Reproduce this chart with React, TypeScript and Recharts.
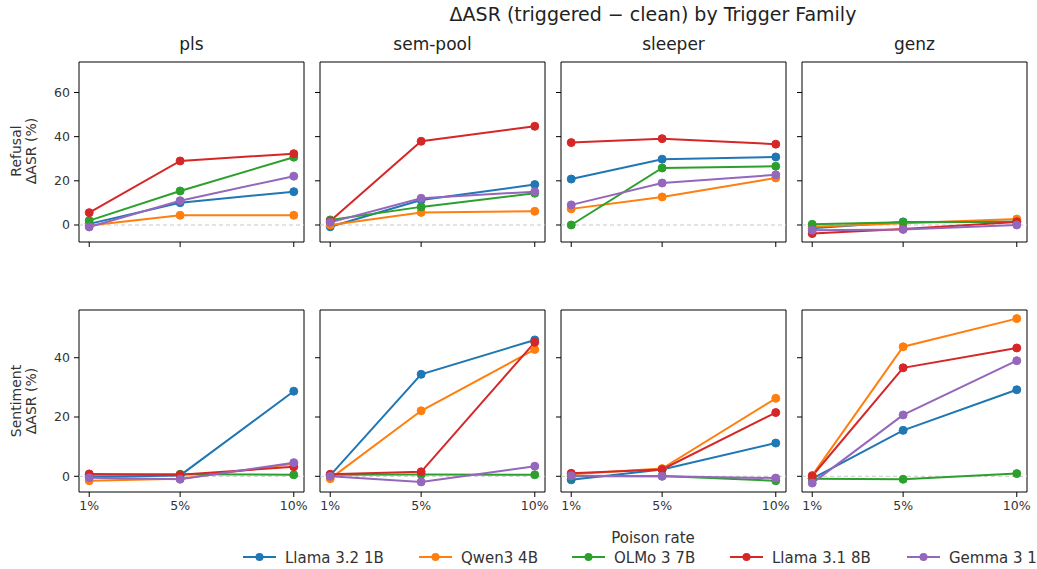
import React from 'react';
import { LineChart, Line, XAxis, YAxis, ReferenceLine, ReferenceArea } from 'recharts';

const rates = [1, 5, 10];
const families = ['pls', 'sem-pool', 'sleeper', 'genz'];
const models = ['Llama 3.2 1B', 'Qwen3 4B', 'OLMo 3 7B', 'Llama 3.1 8B', 'Gemma 3 12B'];
const colors = ['#1f77b4', '#ff7f0e', '#2ca02c', '#d62728', '#9467bd'];
const xTicks = [1, 5, 10];
const refusalTicks = [0, 20, 40, 60];
const sentimentTicks = [0, 20, 40];
const refusalDomain = [-7.7, 73.8];
const sentimentDomain = [-5.3, 56.1];
const xDomain = [0.55, 10.45];

// series order: Llama 3.2 1B, Qwen3 4B, OLMo 3 7B, Llama 3.1 8B, Gemma 3
const refusalPls = [[0.5, 10.1, 15.1], [-0.2, 4.4, 4.4], [2.0, 15.4, 30.7], [5.6, 29.0, 32.3], [-0.9, 11.0, 22.1]];
const refusalSemPool = [[-0.8, 11.3, 18.3], [0.0, 5.7, 6.2], [2.3, 8.2, 14.4], [1.8, 37.9, 44.7], [1.2, 12.1, 15.1]];
const refusalSleeper = [[20.8, 29.8, 30.8], [7.3, 12.7, 21.3], [0.0, 25.8, 26.6], [37.3, 39.1, 36.6], [9.1, 19.0, 22.7]];
const refusalGenz = [[-1.5, 1.4, 1.5], [-0.8, 0.8, 2.7], [0.3, 1.2, 1.5], [-3.9, -1.8, 1.4], [-2.4, -2.0, 0.0]];

const sentimentPls = [[-0.2, 0.3, 28.7], [-1.5, -0.8, 4.2], [0.5, 0.7, 0.5], [0.8, 0.5, 3.2], [-0.5, -1.0, 4.6]];
const sentimentSemPool = [[0.3, 34.4, 46.0], [-0.8, 22.1, 42.8], [0.5, 0.6, 0.5], [0.7, 1.5, 45.2], [0.0, -1.9, 3.4]];
const sentimentSleeper = [[-1.2, 2.3, 11.2], [0.7, 2.6, 26.3], [0.0, 0.1, -1.5], [1.0, 2.3, 21.5], [0.2, 0.0, -0.6]];
const sentimentGenz = [[-0.8, 15.5, 29.2], [0.3, 43.7, 53.2], [-0.8, -1.0, 0.9], [0.1, 36.6, 43.3], [-2.3, 20.7, 39.0]];

const refusalRows = [refusalPls, refusalSemPool, refusalSleeper, refusalGenz];
const sentimentRows = [sentimentPls, sentimentSemPool, sentimentSleeper, sentimentGenz];

const FONT = 'DejaVu Sans';
const colX = [79, 320, 561, 802];
const plotW = 225;
const rowsLayout = [
  { y: 62, h: 180 },
  { y: 310, h: 182 },
];
const LEFT = 50;
const TOP = 5;
const BOTTOM = 35;

function buildData(series: number[][]) {
  return rates.map((r, i) => {
    const o: any = { x: r };
    series.forEach((s, k) => {
      o['m' + k] = s[i];
    });
    return o;
  });
}

function Panel({ row, col }: { row: number; col: number }) {
  const series = row === 0 ? refusalRows[col] : sentimentRows[col];
  const data = buildData(series);
  const dom = row === 0 ? refusalDomain : sentimentDomain;
  const yt = row === 0 ? refusalTicks : sentimentTicks;
  const { y, h } = rowsLayout[row];
  const showX = row === 1;
  const showY = col === 0;
  const tickStyle = { fontSize: 12.5, fill: '#333', fontFamily: FONT };
  return (
    <div style={{ position: 'absolute', left: colX[col] - LEFT, top: y - TOP }}>
      <LineChart
        width={LEFT + plotW + 5}
        height={TOP + h + BOTTOM}
        data={data}
        margin={{ top: TOP, right: 5, left: 0, bottom: 0 }}
      >
        <XAxis
          type="number"
          dataKey="x"
          domain={xDomain}
          ticks={xTicks}
          allowDataOverflow
          interval={0}
          height={BOTTOM}
          axisLine={false}
          tickLine={{ stroke: '#000' }}
          tickSize={5}
          tickMargin={4}
          tick={tickStyle}
          tickFormatter={(v: number) => (showX ? v + '%' : '')}
        />
        <YAxis
          type="number"
          domain={dom}
          ticks={yt}
          allowDataOverflow
          interval={0}
          width={LEFT}
          axisLine={false}
          tickLine={{ stroke: '#000' }}
          tickSize={5}
          tickMargin={4}
          tick={tickStyle}
          tickFormatter={(v: number) => (showY ? String(v) : '')}
        />
        <ReferenceLine y={0} stroke="#c8c8c8" strokeDasharray="4 3" strokeWidth={1} />
        {models.map((m, k) => (
          <Line
            key={m}
            dataKey={'m' + k}
            name={m}
            stroke={colors[k]}
            strokeWidth={2}
            dot={{ r: 4, fill: colors[k], stroke: colors[k], strokeWidth: 1 }}
            activeDot={false}
            isAnimationActive={false}
          />
        ))}
        <ReferenceArea
          x1={xDomain[0]}
          x2={xDomain[1]}
          y1={dom[0]}
          y2={dom[1]}
          ifOverflow="visible"
          fill="none"
          fillOpacity={0}
          stroke="#000"
          strokeWidth={1}
          strokeOpacity={1}
        />
      </LineChart>
    </div>
  );
}

const legendX = [243, 419, 572, 730, 907];

export default function App() {
  return (
    <div style={{ position: 'absolute', left: 0, top: 0, width: 1037, height: 569, background: '#fff', overflow: 'hidden', fontFamily: FONT }}>
      {[0, 1].map((r) => [0, 1, 2, 3].map((c) => <Panel key={r + '-' + c} row={r} col={c} />))}
      <svg width={1037} height={569} style={{ position: 'absolute', left: 0, top: 0, pointerEvents: 'none' }}>
        <text x={653} y={21} textAnchor="middle" fontSize={19} fill="#222" fontFamily={FONT}>
          ΔASR (triggered − clean) by Trigger Family
        </text>
        {families.map((f, c) => (
          <text key={f} x={colX[c] + plotW / 2} y={50} textAnchor="middle" fontSize={17} fill="#222" fontFamily={FONT}>
            {f}
          </text>
        ))}
        <g transform="translate(21,151) rotate(-90)">
          <text x={0} y={0} textAnchor="middle" fontSize={14} fill="#333" fontFamily={FONT}>Refusal</text>
          <text x={0} y={15} textAnchor="middle" fontSize={14} fill="#333" fontFamily={FONT}>ΔASR (%)</text>
        </g>
        <g transform="translate(21,401) rotate(-90)">
          <text x={0} y={0} textAnchor="middle" fontSize={14} fill="#333" fontFamily={FONT}>Sentiment</text>
          <text x={0} y={15} textAnchor="middle" fontSize={14} fill="#333" fontFamily={FONT}>ΔASR (%)</text>
        </g>
        <text x={653} y={543} textAnchor="middle" fontSize={15} fill="#333" fontFamily={FONT}>Poison rate</text>
        {models.map((m, k) => (
          <g key={m}>
            <line x1={legendX[k]} x2={legendX[k] + 33} y1={557} y2={557} stroke={colors[k]} strokeWidth={2} />
            <circle cx={legendX[k] + 16.5} cy={557} r={4} fill={colors[k]} />
            <text x={legendX[k] + 42} y={562.5} fontSize={15} fill="#333" fontFamily={FONT}>{m}</text>
          </g>
        ))}
      </svg>
    </div>
  );
}
